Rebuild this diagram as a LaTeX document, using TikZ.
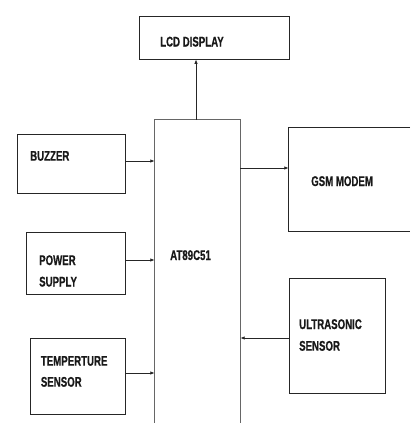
\documentclass[tikz,border=0pt]{standalone}
\usepackage{fontspec}
\setmainfont{Liberation Sans}[FakeStretch=0.69, BoldFeatures={FakeBold=0.6}]
\usetikzlibrary{arrows.meta}
\begin{document}
\begin{tikzpicture}[x=1pt,y=-1pt,
  box/.style={draw=black!85, line width=0.8pt, inner sep=0pt},
  lbl/.style={anchor=base west, inner sep=0pt, font=\fontsize{14}{16}\selectfont\bfseries, text=black!90},
  arr/.style={draw=black!85, line width=0.8pt, -{Latex[length=4.5pt,width=3.5pt]}}]
\useasboundingbox (0,0) rectangle (410,423);
% boxes
\node[box, minimum width=150pt, minimum height=43pt] (lcd) at (214,37.5) {};
\node[box, minimum width=108pt, minimum height=59pt] (buzzer) at (71,163.5) {};
\node[box, minimum width=99pt, minimum height=62pt] (power) at (75.5,263) {};
\node[box, minimum width=95pt, minimum height=76pt] (temp) at (77.5,376) {};
\node[box, minimum width=96pt, minimum height=115pt] (ultra) at (337,335.5) {};
\node[inner sep=0pt, minimum width=85pt, minimum height=303pt] (mcu) at (197.5,271.5) {};
\node[inner sep=0pt, minimum width=121pt, minimum height=103pt] (gsm) at (349.5,179.5) {};
% open boxes
\draw[black!60, line width=0.8pt] (mcu.south west) -- (mcu.north west) -- (mcu.north east) -- (mcu.south east);
\draw[black!85, line width=0.8pt] (gsm.north east) -- (gsm.north west) -- (gsm.south west) -- (gsm.south east);
% labels
\node[lbl] (tlcd) at (160,46.5) {LCD DISPLAY};
\node[lbl] (tbuz) at (30,160.7) {BUZZER};
\node[lbl] (tgsm) at (311,186) {GSM MODEM};
\node[lbl] (tpow1) at (39,265) {POWER};
\node[lbl] (tpow2) at (39,286.5) {SUPPLY};
\node[lbl] (tmcu) at (170,260) {AT89C51};
\node[lbl] (tus1) at (299,329) {ULTRASONIC};
\node[lbl] (tus2) at (299,350.7) {SENSOR};
\node[lbl] (ttmp1) at (40.7,365.7) {TEMPERTURE};
\node[lbl] (ttmp2) at (40.7,386.7) {SENSOR};
% connectors
\draw[arr] ([xshift=-1.5pt]mcu.north) -- ([xshift=-1.5pt]mcu.north |- lcd.south);
\draw[arr] ([yshift=2.5pt]buzzer.east) -- ([yshift=2.5pt]buzzer.east -| mcu.west);
\draw[arr] ([yshift=3pt]power.east) -- ([yshift=3pt]power.east -| mcu.west);
\draw[arr] ([yshift=3pt]temp.east) -- ([yshift=3pt]temp.east -| mcu.west);
\draw[arr] ([yshift=-2.5pt]ultra.west) -- ([yshift=-2.5pt]ultra.west -| mcu.east);
\draw[arr] ([yshift=11.5pt]mcu.east |- gsm.west) -- ([yshift=11.5pt]gsm.west);
\end{tikzpicture}
\end{document}
